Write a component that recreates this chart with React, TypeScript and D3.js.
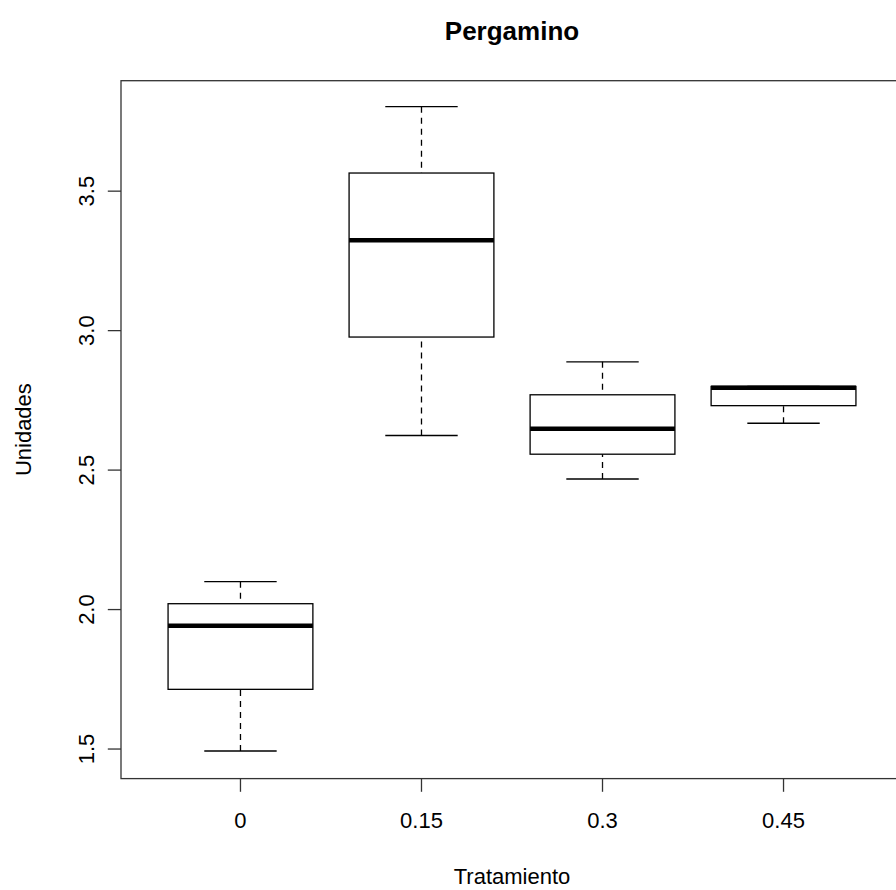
import React from "react";
import * as d3 from "d3";

const categories = ["0", "0.15", "0.3", "0.45"];
const lowerWhisker = [1.493, 2.624, 2.468, 2.668];
const q1Values = [1.714, 2.977, 2.557, 2.731];
const medianValues = [1.942, 3.324, 2.648, 2.795];
const q3Values = [2.021, 3.565, 2.770, 2.800];
const upperWhisker = [2.100, 3.803, 2.888, 2.800];
const yTicks = [1.5, 2.0, 2.5, 3.0, 3.5];
const titleText = "Pergamino";
const xTitle = "Tratamiento";
const yTitle = "Unidades";

const W = 896;
const H = 890;
const left = 121;
const right = 903;
const top = 80.7;
const bottom = 778.6;
const FONT = "'Liberation Sans', Arial, sans-serif";

export default function App() {
  const x = d3.scaleLinear().domain([0.34, 4.66]).range([left, right]);
  const y = d3.scaleLinear().domain([1.394, 3.896]).range([bottom, top]);
  const halfBox = 0.4;
  const halfCap = 0.2;
  const stroke = "#000";
  const sw = 1.3;

  return (
    <svg
      width={W}
      height={H}
      style={{ position: "absolute", left: 0, top: 0, background: "#fff" }}
      fontFamily={FONT}
    >
      <rect x={0} y={0} width={W} height={H} fill="#fff" />
      <text x={(left + right) / 2} y={40} textAnchor="middle" fontSize={26} fontWeight="bold" fill="#000">
        {titleText}
      </text>

      {categories.map((c, i) => {
        const cx = x(i + 1);
        const bx0 = x(i + 1 - halfBox);
        const bx1 = x(i + 1 + halfBox);
        const cx0 = x(i + 1 - halfCap);
        const cx1 = x(i + 1 + halfCap);
        return (
          <g key={c}>
            <line x1={cx} x2={cx} y1={y(lowerWhisker[i])} y2={y(q1Values[i])} stroke={stroke} strokeWidth={sw} strokeDasharray="6,5" />
            <line x1={cx} x2={cx} y1={y(upperWhisker[i])} y2={y(q3Values[i])} stroke={stroke} strokeWidth={sw} strokeDasharray="6,5" />
            <line x1={cx0} x2={cx1} y1={y(lowerWhisker[i])} y2={y(lowerWhisker[i])} stroke={stroke} strokeWidth={sw} />
            <line x1={cx0} x2={cx1} y1={y(upperWhisker[i])} y2={y(upperWhisker[i])} stroke={stroke} strokeWidth={sw} />
            <rect
              x={bx0}
              y={y(q3Values[i])}
              width={bx1 - bx0}
              height={y(q1Values[i]) - y(q3Values[i])}
              fill="none"
              stroke={stroke}
              strokeWidth={sw}
            />
            <line x1={bx0} x2={bx1} y1={y(medianValues[i])} y2={y(medianValues[i])} stroke={stroke} strokeWidth={4.5} />
          </g>
        );
      })}

      <rect x={left} y={top} width={right - left} height={bottom - top} fill="none" stroke="#333" strokeWidth={1.3} />

      {categories.map((c, i) => (
        <g key={"xt" + c}>
          <line x1={x(i + 1)} x2={x(i + 1)} y1={bottom} y2={bottom + 13.2} stroke="#333" strokeWidth={1.3} />
          <text x={x(i + 1)} y={828} textAnchor="middle" fontSize={22} fill="#000">
            {c}
          </text>
        </g>
      ))}

      {yTicks.map((t) => (
        <g key={"yt" + t}>
          <line x1={left - 13.2} x2={left} y1={y(t)} y2={y(t)} stroke="#333" strokeWidth={1.3} />
          <text
            transform={`translate(${left - 27},${y(t)}) rotate(-90)`}
            textAnchor="middle"
            fontSize={22}
            fill="#000"
          >
            {t.toFixed(1)}
          </text>
        </g>
      ))}

      <text x={(left + right) / 2} y={884} textAnchor="middle" fontSize={22} fill="#000">
        {xTitle}
      </text>
      <text
        transform={`translate(${31},${(top + bottom) / 2}) rotate(-90)`}
        textAnchor="middle"
        fontSize={22}
        fill="#000"
      >
        {yTitle}
      </text>
    </svg>
  );
}
